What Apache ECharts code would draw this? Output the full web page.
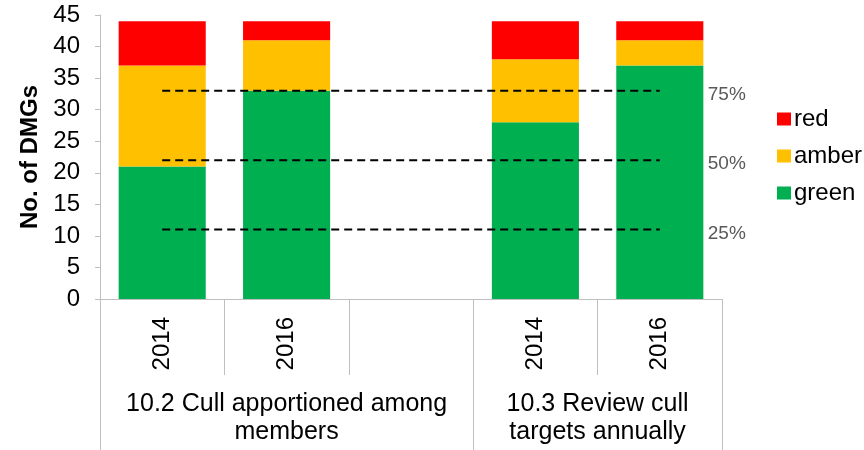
<!DOCTYPE html>
<html>
<head>
<meta charset="utf-8">
<script src="https://cdn.jsdelivr.net/npm/echarts@6/dist/echarts.min.js"></script>
<style>
  html, body { margin: 0; padding: 0; background: #fff; }
  #container { width: 864px; height: 450px; }
</style>
</head>
<body>
<div id="container"></div>
<script>
// years under each bar (third slot is the empty gap between the two groups)
var years = ['2014', '2016', '', '2014', '2016'];
var groupNames = ['10.2 Cull apportioned among\nmembers', '10.3 Review cull\ntargets annually'];

var greenVals = [21, 33, null, 28, 37];
var amberVals = [16, 8, null, 10, 4];
var redVals   = [7, 3, null, 6, 3];

// reference lines (25%, 50%, 75% of 44 DMGs)
var line25 = [11, 11, 11, 11, 11];
var line50 = [22, 22, 22, 22, 22];
var line75 = [33, 33, 33, 33, 33];
var lineLabels = ['25%', '50%', '75%'];

var yTicks = [0, 45, 5]; // min, max, interval

var font = 'Liberation Sans, Arial, sans-serif';
var axisGray = '#bfbfbf';

var dom = document.getElementById('container');
var myChart = echarts.init(dom);

var refLine = function(data, label){
	return {
		name: label,
		type: 'line',
		data: data,
		symbol: 'none',
		silent: true,
		z: 5,
		lineStyle: { color: '#000', width: 2, type: [8, 5] },
		endLabel: {
			show: true,
			formatter: label,
			distance: 48,
			offset: [0, 4],
			color: '#595959',
			fontSize: 19,
			fontFamily: font
		}
	};
};

var option = {
	animation: false,
	color: ['#00B050', '#FFC000', '#FF0000'],
	grid: { left: 100, right: 142, top: 15, bottom: 151, containLabel: false },
	legend: {
		data: ['red', 'amber', 'green'],
		orient: 'vertical',
		left: 772,
		top: 102,
		itemWidth: 14,
		itemHeight: 13,
		itemGap: 13,
		icon: 'rect',
		textStyle: { fontSize: 24, color: '#000', fontFamily: font, padding: [0, 0, 0, -2] }
	},
	xAxis: [
		{
			type: 'category',
			data: years,
			position: 'bottom',
			axisLine: { lineStyle: { color: axisGray, width: 1 } },
			axisTick: { show: true, interval: 0, length: 76, lineStyle: { color: axisGray } },
			axisLabel: {
				interval: 0, rotate: 90, margin: 18,
				fontSize: 24, color: '#000', fontFamily: font
			}
		},
		{
			type: 'value',
			min: 0,
			max: 5,
			position: 'bottom',
			axisLine: { show: false },
			splitLine: { show: false },
			axisTick: { show: true, customValues: [0, 3, 5], length: 151, lineStyle: { color: axisGray } },
			axisLabel: {
				customValues: [1.5, 4],
				margin: 91,
				fontSize: 25,
				lineHeight: 28,
				color: '#000',
				fontFamily: font,
				formatter: function(v){ return v < 3 ? groupNames[0] : groupNames[1]; }
			}
		}
	],
	yAxis: {
		type: 'value',
		min: yTicks[0],
		max: yTicks[1],
		interval: yTicks[2],
		name: 'No. of DMGs',
		nameLocation: 'middle',
		nameGap: 55,
		nameTextStyle: { fontSize: 24, fontWeight: 'bold', color: '#000', fontFamily: font },
		axisLine: { show: true, lineStyle: { color: axisGray } },
		axisTick: { show: true, length: 5, lineStyle: { color: axisGray } },
		splitLine: { show: false },
		axisLabel: { fontSize: 24, margin: 20, color: '#000', fontFamily: font }
	},
	series: [
		{ name: 'green', type: 'bar', stack: 'dmg', data: greenVals, barCategoryGap: '30%' },
		{ name: 'amber', type: 'bar', stack: 'dmg', data: amberVals },
		{ name: 'red', type: 'bar', stack: 'dmg', data: redVals },
		refLine(line25, lineLabels[0]),
		refLine(line50, lineLabels[1]),
		refLine(line75, lineLabels[2])
	]
};

myChart.setOption(option, true);
</script>
</body>
</html>
